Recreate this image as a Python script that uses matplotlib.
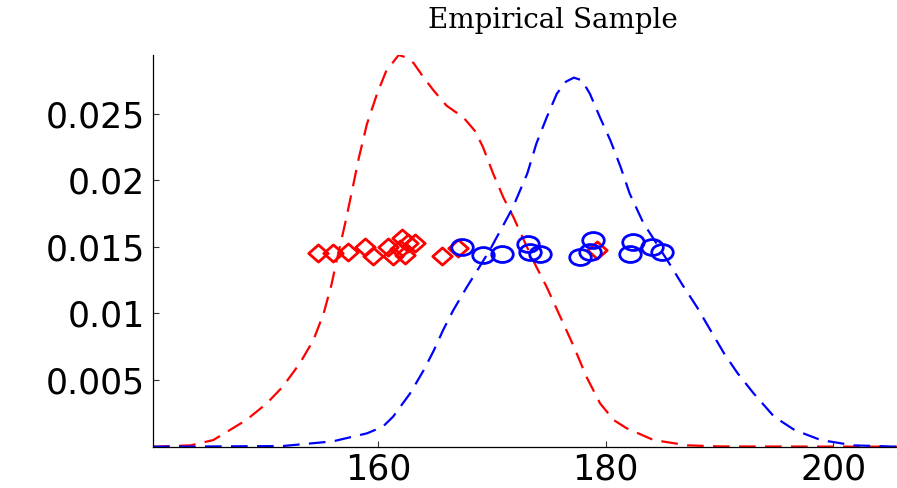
import numpy as np
import matplotlib
matplotlib.use('Agg')
import matplotlib.pyplot as plt
from matplotlib.path import Path
import matplotlib.transforms as mtrans

# KDE curves
red_x = [140.2, 143.5, 145.5, 148.4, 150.2, 151.6, 153.1, 154.3, 155.2, 155.9,
         156.3, 157.1, 157.5, 158.3, 159.0, 159.9, 160.7, 161.8, 162.5, 163.1,
         164.0, 164.9, 166.0, 167.5, 168.5, 169.2, 170.1, 171.0, 171.9, 172.8,
         173.6, 174.8, 176.0, 177.2, 178.3, 179.5, 180.7, 181.8, 184.2, 187.2,
         190.0, 205.6]
red_y = [0, 0.0001, 0.0005, 0.002, 0.00325, 0.0045, 0.00625, 0.008, 0.01, 0.0122,
         0.0138, 0.0168, 0.0184, 0.0217, 0.0242, 0.0265, 0.0282, 0.0294, 0.0292, 0.0288,
         0.0277, 0.0267, 0.0256, 0.0247, 0.0237, 0.0225, 0.0205, 0.0187, 0.0172, 0.0155,
         0.014, 0.012, 0.00975, 0.0075, 0.00525, 0.00325, 0.002, 0.0014, 0.0005, 0.0001,
         0.00002, 0]

blue_x = [140.2, 143.5, 151.6, 156.0, 159.0, 160.4, 161.3, 162.8, 164.0, 164.9,
          165.7, 166.6, 167.8, 168.9, 169.8, 171.8, 173.1, 173.9, 174.8, 175.7,
          176.5, 177.2, 177.9, 178.6, 179.5, 180.4, 181.3, 182.1, 183.3, 184.5,
          185.7, 186.7, 188.0, 189.2, 190.4, 191.6, 193.0, 194.8, 196.6, 198.9,
          201.8, 205.6]
blue_y = [0, 0.00001, 0.00005, 0.0004, 0.001, 0.0015, 0.00225, 0.004, 0.00575, 0.00725,
          0.00875, 0.01025, 0.012, 0.0135, 0.01475, 0.0179, 0.0205, 0.02275, 0.0247, 0.0265,
          0.0274, 0.0277, 0.0275, 0.0265, 0.0247, 0.023, 0.021, 0.019, 0.0168, 0.0152,
          0.0136, 0.0122, 0.0105, 0.00875, 0.007, 0.0055, 0.004, 0.00225, 0.00125, 0.0005,
          0.0001, 0]

# sample points
red_pts_x = [154.72, 156.04, 157.36, 158.83, 159.56, 160.88, 161.32, 162.06, 162.64,
             163.23, 162.35, 161.91, 165.58, 167.04, 179.21]
red_pts_y = [0.01452, 0.01452, 0.01465, 0.01496, 0.01429, 0.01501, 0.01429, 0.01563,
             0.01526, 0.01526, 0.01439, 0.01481, 0.01429, 0.01488, 0.01474]

blue_pts_x = [167.33, 169.23, 170.85, 173.19, 173.34, 174.22, 177.73, 178.91, 178.62,
              182.13, 182.43, 184.05, 184.93]
blue_pts_y = [0.01499, 0.01437, 0.01450, 0.01525, 0.01462, 0.01450, 0.01425, 0.01549,
              0.01462, 0.01450, 0.01537, 0.01499, 0.01462]

xticks = [160, 180, 200]
yticks = [0.005, 0.01, 0.015, 0.02, 0.025]
ytick_labels = ['0.005', '0.01', '0.015', '0.02', '0.025']

# slightly squashed markers, like the reference
ellipse = Path.unit_circle().transformed(mtrans.Affine2D().scale(1.0, 0.74))
diamond = Path([(0, 1), (1, 0), (0, -1), (-1, 0), (0, 1)],
               [Path.MOVETO, Path.LINETO, Path.LINETO, Path.LINETO, Path.CLOSEPOLY])
diamond = diamond.transformed(mtrans.Affine2D().scale(1.0, 0.88))

fig = plt.figure(figsize=(8.97, 4.88), dpi=100)
ax = fig.add_axes([153/897, 1-446.7/488, 1-153/897, (446.7-55)/488])

l1, = ax.plot(red_x, red_y, color='red', lw=1.6)
l2, = ax.plot(blue_x, blue_y, color='blue', lw=1.6)
l1.set_dashes((7.5, 4.2))
l2.set_dashes((7.5, 4.2))

ax.plot(red_pts_x, red_pts_y, ls='none', marker=diamond, ms=14,
        mfc='none', mec='red', mew=2)
ax.plot(blue_pts_x, blue_pts_y, ls='none', marker=ellipse, ms=15.5,
        mfc='none', mec='blue', mew=2)

ax.set_xlim(140.2, 205.6)
ax.set_ylim(0, 0.0294)
ax.set_xticks(xticks)
ax.set_xticklabels([str(t) for t in xticks])
ax.set_yticks(yticks)
ax.set_yticklabels(ytick_labels)

for s in ['top', 'right']:
    ax.spines[s].set_visible(False)
for s in ['left', 'bottom']:
    ax.spines[s].set_linewidth(0.9)
    ax.spines[s].set_color('black')

ax.tick_params(direction='in', length=4, width=0.8, color='#333333',
               labelsize=25)
ax.tick_params(axis='y', pad=6)
ax.tick_params(axis='x', pad=4)
for lab in ax.get_xticklabels() + ax.get_yticklabels():
    lab.set_family('DejaVu Sans')

fig.text(553/897, 1-28.3/488, 'Empirical Sample', ha='center', va='baseline',
         family='DejaVu Serif', fontsize=20)

fig.savefig('out.png', dpi=100)
